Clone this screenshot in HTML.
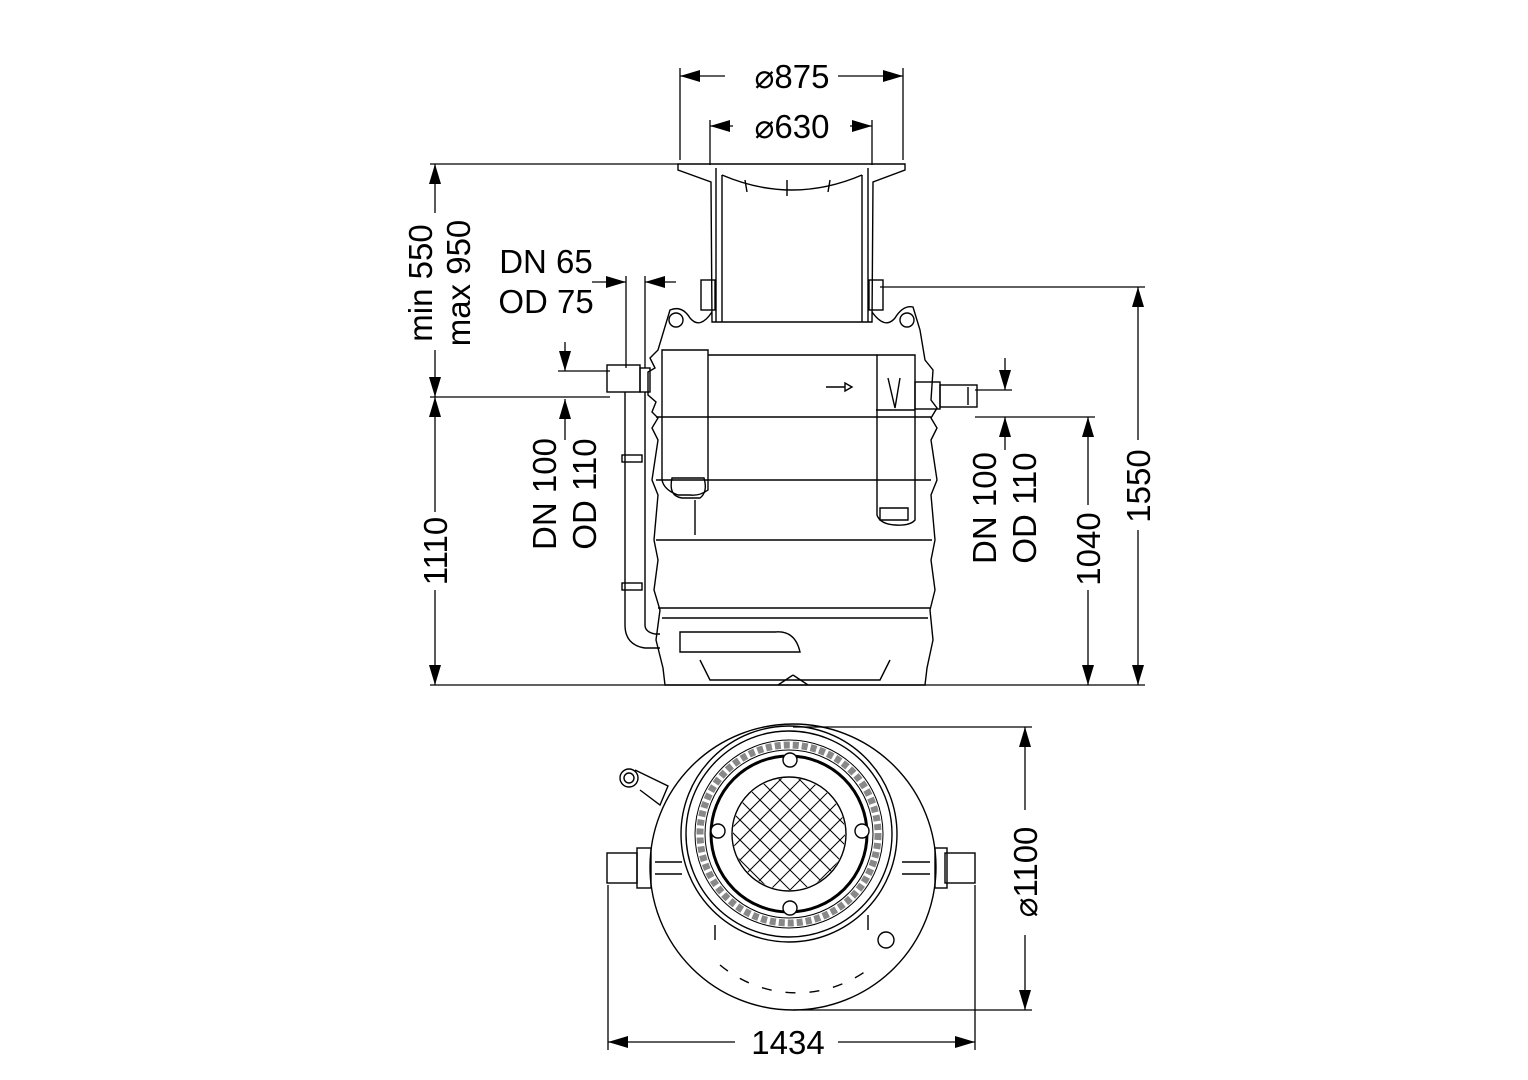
<!DOCTYPE html>
<html><head><meta charset="utf-8"><style>html,body{margin:0;padding:0;background:#fff}svg{display:block}</style></head>
<body>
<svg width="1528" height="1080" viewBox="0 0 1528 1080" xmlns="http://www.w3.org/2000/svg" font-family="Liberation Sans, sans-serif" fill="none" stroke="#000" stroke-width="1.5">
<defs>
<marker id="a" viewBox="0 0 20 12" refX="20" refY="6" markerWidth="20" markerHeight="12" markerUnits="userSpaceOnUse" orient="auto-start-reverse"><path d="M0,0L20,6L0,12z" fill="#000" stroke="none"/></marker>
</defs>
<g stroke-width="1.3">
<line x1="680" y1="68" x2="680" y2="160"/><line x1="903" y1="68" x2="903" y2="160"/>
<line x1="680" y1="76" x2="725" y2="76" marker-start="url(#a)"/><line x1="838" y1="76" x2="903" y2="76" marker-end="url(#a)"/>
<line x1="710" y1="120" x2="710" y2="165"/><line x1="872" y1="120" x2="872" y2="165"/>
<line x1="710" y1="126" x2="733" y2="126" marker-start="url(#a)"/><line x1="850" y1="126" x2="872" y2="126" marker-end="url(#a)"/>
<line x1="430" y1="164" x2="678" y2="164"/>
<line x1="435" y1="164" x2="435" y2="213" marker-start="url(#a)"/>
<line x1="435" y1="350" x2="435" y2="397" marker-end="url(#a)"/>
<line x1="430" y1="397" x2="610" y2="397"/>
<line x1="435" y1="397" x2="435" y2="512" marker-start="url(#a)"/>
<line x1="435" y1="590" x2="435" y2="685" marker-end="url(#a)"/>
<line x1="430" y1="685" x2="1145" y2="685"/>
<line x1="592" y1="282" x2="626" y2="282" marker-end="url(#a)"/>
<line x1="645" y1="282" x2="676" y2="282" marker-start="url(#a)"/>
<line x1="626" y1="276" x2="626" y2="368"/><line x1="645" y1="276" x2="645" y2="368"/>
<line x1="565" y1="342" x2="565" y2="371" marker-end="url(#a)"/>
<line x1="558" y1="371" x2="610" y2="371"/>
<line x1="565" y1="399" x2="565" y2="440" marker-start="url(#a)"/>
<line x1="1005" y1="358" x2="1005" y2="390" marker-end="url(#a)"/>
<line x1="975" y1="390" x2="1012" y2="390"/>
<line x1="1005" y1="417" x2="1005" y2="450" marker-start="url(#a)"/>
<line x1="975" y1="417" x2="1095" y2="417"/>
<line x1="1088" y1="417" x2="1088" y2="505" marker-start="url(#a)"/>
<line x1="1088" y1="590" x2="1088" y2="685" marker-end="url(#a)"/>
<line x1="880" y1="287" x2="1145" y2="287"/>
<line x1="1138" y1="287" x2="1138" y2="440" marker-start="url(#a)"/>
<line x1="1138" y1="530" x2="1138" y2="685" marker-end="url(#a)"/>
<line x1="793" y1="727" x2="1032" y2="727"/><line x1="793" y1="1010" x2="1032" y2="1010"/>
<line x1="1025" y1="727" x2="1025" y2="810" marker-start="url(#a)"/>
<line x1="1025" y1="935" x2="1025" y2="1010" marker-end="url(#a)"/>
<line x1="608" y1="885" x2="608" y2="1050"/><line x1="975" y1="885" x2="975" y2="1050"/>
<line x1="608" y1="1042" x2="735" y2="1042" marker-start="url(#a)"/>
<line x1="838" y1="1042" x2="975" y2="1042" marker-end="url(#a)"/>
</g>
<g fill="#000" stroke="none" font-size="33">
<text x="792" y="88" text-anchor="middle">⌀875</text>
<text x="792" y="138" text-anchor="middle">⌀630</text>
<text x="546" y="273" text-anchor="middle">DN 65</text>
<text x="546" y="313" text-anchor="middle">OD 75</text>
<text transform="translate(432,283) rotate(-90)" text-anchor="middle">min 550</text>
<text transform="translate(470,283) rotate(-90)" text-anchor="middle">max 950</text>
<text transform="translate(447,551) rotate(-90)" text-anchor="middle">1110</text>
<text transform="translate(556,494) rotate(-90)" text-anchor="middle">DN 100</text>
<text transform="translate(596,494) rotate(-90)" text-anchor="middle">OD 110</text>
<text transform="translate(996,508) rotate(-90)" text-anchor="middle">DN 100</text>
<text transform="translate(1036,508) rotate(-90)" text-anchor="middle">OD 110</text>
<text transform="translate(1100,549) rotate(-90)" text-anchor="middle">1040</text>
<text transform="translate(1150,486) rotate(-90)" text-anchor="middle">1550</text>
<text transform="translate(1037,872) rotate(-90)" text-anchor="middle">⌀1100</text>
<text x="788" y="1054" text-anchor="middle">1434</text>
</g>
<g stroke-width="1.4">
<path d="M678,164 L905,164 L905,170 L873,182 L872,322 L712,322 L711,182 L678,170 Z"/>
<line x1="716" y1="168" x2="716" y2="322"/><line x1="868" y1="168" x2="868" y2="322"/>
<line x1="722" y1="175" x2="722" y2="322"/><line x1="862" y1="175" x2="862" y2="322"/>
<path d="M722,175 Q792,205 862,175"/>
<line x1="745" y1="180" x2="747" y2="192"/><line x1="787" y1="180" x2="787" y2="196"/><line x1="830" y1="180" x2="828" y2="192"/>
<rect x="701" y="280" width="14" height="30"/><rect x="869" y="280" width="14" height="30"/>
<path d="M712,312 Q700,330 690,318 Q682,305 670,310 L658,350 L650,358 L655,368 L648,372 L648,395 L656,402 L652,412 L658,418 L652,428 L658,440 L652,480 L658,495 L654,540 L658,560 L654,590 L660,610 L656,640 L663,668 L665,685 L925,685 L927,668 L933,640 L930,610 L935,590 L931,560 L935,540 L931,495 L937,480 L931,440 L937,428 L931,418 L937,408 L931,400 L933,370 L925,360 L920,330 L913,307 Q903,305 895,318 Q885,330 872,312"/>
<circle cx="676" cy="320" r="7"/><circle cx="907" cy="320" r="7"/>
<line x1="708" y1="355" x2="877" y2="355"/>
<line x1="656" y1="417" x2="931" y2="417"/>
<line x1="656" y1="480" x2="931" y2="480"/>
<line x1="656" y1="540" x2="932" y2="540"/>
<line x1="658" y1="608" x2="930" y2="608"/>
<line x1="662" y1="618" x2="928" y2="618"/>
<path d="M662,350 L708,350 L708,490 Q700,496 690,495 L678,495 Q664,490 662,480 Z"/>
<path d="M672,478 Q668,496 682,498 L700,498 Q708,492 704,478 Z"/>
<line x1="695" y1="500" x2="695" y2="535"/>
<path d="M877,355 L915,355 L915,520 Q910,526 895,525 Q880,524 877,515 Z"/>
<path d="M880,508 L908,508 L908,520 L880,520 Z"/>
<path d="M888,378 L895,408 L900,378"/>
<line x1="876" y1="410" x2="915" y2="410"/>
<line x1="826" y1="387" x2="845" y2="387"/><path d="M845,383 L852,387 L845,391 Z"/>
<rect x="607" y="365" width="33" height="27"/>
<rect x="640" y="368" width="10" height="24"/>
<rect x="915" y="382" width="25" height="27"/>
<rect x="940" y="385" width="37" height="22"/>
<line x1="968" y1="387" x2="968" y2="405"/>
<path d="M625,392 L625,625 Q625,645 645,648 L660,648"/>
<path d="M645,392 L645,625 Q645,632 655,634 L660,634"/>
<rect x="622" y="455" width="20" height="7"/><rect x="622" y="583" width="20" height="7"/>
<path d="M680,632 L775,632 Q795,630 800,652 L680,652 Z"/>
<path d="M700,660 L710,680 L880,680 L890,660"/>
<line x1="778" y1="685" x2="793" y2="675"/><line x1="808" y1="685" x2="793" y2="675"/>
</g>
<g stroke-width="1.4">
<circle cx="793" cy="867" r="143"/>
<circle cx="789" cy="834" r="108"/>
<circle cx="789" cy="834" r="103"/>
<circle cx="789" cy="834" r="78" stroke-width="3"/>
<circle cx="789" cy="834" r="94" stroke-width="1"/>
<circle cx="789" cy="834" r="84" stroke-width="1"/>
<circle cx="789" cy="834" r="89" stroke-width="7" stroke-dasharray="6 3" stroke="#888"/>
<circle cx="789" cy="834" r="57"/>
<g stroke-width="1">
<clipPath id="c"><circle cx="789" cy="834" r="56"/></clipPath>
<g clip-path="url(#c)">
<path d="M720,780 L860,920 M730,770 L870,910 M710,790 L850,930 M740,760 L880,900 M700,800 L840,940 M750,750 L890,890 M690,810 L830,950 M760,740 L900,880 M680,820 L820,960 M770,730 L910,870 M670,830 L810,970 M780,720 L920,860 M660,840 L800,980 M790,710 L930,850
M860,780 L720,920 M870,790 L730,930 M850,770 L710,910 M880,800 L740,940 M840,760 L700,900 M890,810 L750,950 M830,750 L690,890 M900,820 L760,960 M820,740 L680,880 M910,830 L770,970 M810,730 L670,870 M920,840 L780,980 M800,720 L660,860"/>
</g>
</g>
<circle cx="790" cy="760" r="7" fill="#fff"/><circle cx="790" cy="908" r="7" fill="#fff"/>
<circle cx="718" cy="831" r="7" fill="#fff"/><circle cx="862" cy="831" r="7" fill="#fff"/>
<rect x="607" y="853" width="30" height="30"/><rect x="637" y="848" width="14" height="40"/>
<rect x="945" y="853" width="30" height="30"/><rect x="935" y="848" width="12" height="40"/>
<line x1="655" y1="862" x2="682" y2="862"/><line x1="655" y1="874" x2="682" y2="874"/>
<line x1="902" y1="862" x2="930" y2="862"/><line x1="902" y1="874" x2="930" y2="874"/>
<circle cx="629" cy="778" r="9"/><circle cx="629" cy="778" r="5"/>
<path d="M635,770 L668,786 L660,805 L640,790"/>
<circle cx="886" cy="940" r="8"/>
<line x1="715" y1="925" x2="715" y2="940"/><line x1="868" y1="915" x2="868" y2="930"/>
<path d="M720,965 A120,120 0 0 0 870,968" stroke-dasharray="10 14"/>
</g>
</svg>
</body></html>
